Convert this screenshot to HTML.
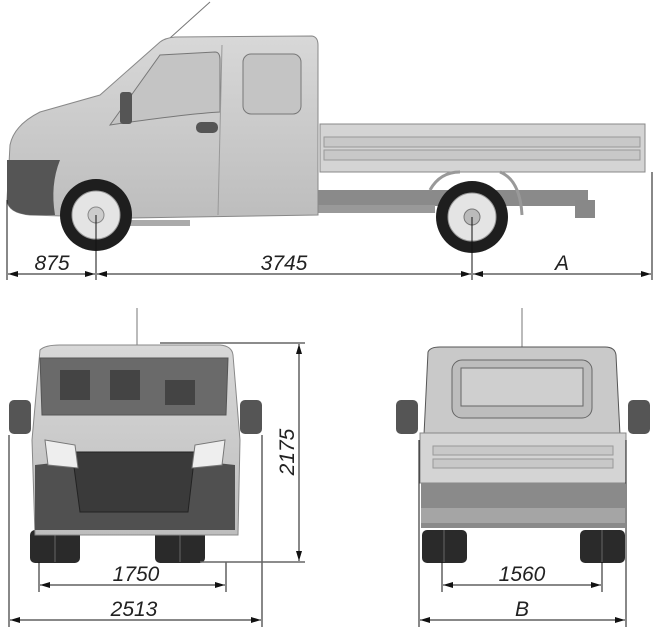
<!DOCTYPE html>
<html><head><meta charset="utf-8"><style>
html,body{margin:0;padding:0;background:#fff;width:655px;height:627px;overflow:hidden}
svg{display:block}
text{font-family:"Liberation Sans",sans-serif;font-style:italic;font-size:21px;fill:#222}
</style></head><body>
<svg width="655" height="627" viewBox="0 0 655 627" xmlns="http://www.w3.org/2000/svg">
<defs>
<marker id="a" viewBox="0 0 10 6" refX="10" refY="3" markerWidth="10" markerHeight="6" orient="auto-start-reverse"><path d="M0,0L10,3L0,6z" fill="#111"/></marker>
<linearGradient id="body" x1="0" y1="0" x2="0" y2="1"><stop offset="0" stop-color="#d8d8d8"/><stop offset="1" stop-color="#bdbdbd"/></linearGradient>
</defs>
<!-- SIDE VIEW -->
<line x1="170" y1="38" x2="210" y2="2" stroke="#777" stroke-width="1"/>
<rect x="320" y="124" width="325" height="48" fill="#d4d4d4" stroke="#888"/>
<rect x="324" y="137" width="316" height="10" fill="#c8c8c8" stroke="#999"/>
<rect x="324" y="150" width="316" height="10" fill="#c8c8c8" stroke="#999"/>
<rect x="318" y="190" width="270" height="16" fill="#8a8a8a"/>
<rect x="255" y="205" width="180" height="8" fill="#999"/>
<rect x="575" y="200" width="20" height="18" fill="#888"/>
<path d="M430,190 Q440,172 460,172 M500,172 Q520,180 522,215" stroke="#999" fill="none" stroke-width="3"/>
<path d="M10,145 Q14,125 40,112 L100,95 L160,42 Q165,38 175,37 L312,36 Q318,37 318,45 L318,215 L130,218 L30,215 Q8,213 7,200 Z" fill="url(#body)" stroke="#888"/>
<path d="M7,160 L60,160 Q50,185 55,215 L30,215 Q8,213 7,200Z" fill="#555"/>
<path d="M110,125 L160,55 L215,52 Q220,52 220,60 L220,112 Q185,114 110,125Z" fill="#c4c4c4" stroke="#777"/>
<rect x="243" y="54" width="58" height="60" rx="8" fill="#c4c4c4" stroke="#777"/>
<line x1="222" y1="45" x2="218" y2="215" stroke="#999"/>
<rect x="120" y="92" width="12" height="32" rx="3" fill="#555"/>
<rect x="196" y="122" width="22" height="11" rx="5" fill="#555"/>
<rect x="130" y="220" width="60" height="6" fill="#aaa"/>
<circle cx="96" cy="215" r="36" fill="#1e1e1e"/>
<circle cx="96" cy="215" r="24" fill="#e4e4e4" stroke="#999"/>
<circle cx="96" cy="215" r="8" fill="#ccc" stroke="#888"/>
<circle cx="472" cy="217" r="36" fill="#1e1e1e"/>
<circle cx="472" cy="217" r="24" fill="#e4e4e4" stroke="#999"/>
<circle cx="472" cy="217" r="8" fill="#bbb" stroke="#777"/>
<g stroke="#111" stroke-width="1">
<line x1="7" y1="200" x2="7" y2="280"/><line x1="96" y1="215" x2="96" y2="280"/>
<line x1="472" y1="217" x2="472" y2="280"/><line x1="652" y1="172" x2="652" y2="280"/>
<line x1="8" y1="274" x2="95" y2="274" marker-start="url(#a)" marker-end="url(#a)"/>
<line x1="97" y1="274" x2="471" y2="274" marker-start="url(#a)" marker-end="url(#a)"/>
<line x1="473" y1="274" x2="651" y2="274" marker-start="url(#a)" marker-end="url(#a)"/>
</g>
<text x="52" y="270" text-anchor="middle">875</text>
<text x="284" y="270" text-anchor="middle">3745</text>
<text x="562" y="270" text-anchor="middle">A</text>

<!-- FRONT VIEW -->
<line x1="137" y1="308" x2="137" y2="346" stroke="#777"/>
<rect x="30" y="530" width="50" height="33" rx="5" fill="#2a2a2a"/>
<rect x="155" y="530" width="50" height="33" rx="5" fill="#2a2a2a"/>
<line x1="55" y1="530" x2="55" y2="562" stroke="#666"/><line x1="180" y1="530" x2="180" y2="562" stroke="#666"/>
<path d="M40,350 Q45,345 60,345 L220,345 Q232,346 233,355 L240,440 L238,535 L35,535 L32,440Z" fill="url(#body)" stroke="#888"/>
<path d="M40,358 L228,358 L226,415 L42,415Z" fill="#6a6a6a" stroke="#555"/>
<rect x="60" y="370" width="30" height="30" fill="#444"/><rect x="110" y="370" width="30" height="30" fill="#444"/><rect x="165" y="380" width="30" height="25" fill="#444"/>
<path d="M35,465 L80,460 L190,460 L235,465 L235,530 L35,530Z" fill="#505050"/>
<path d="M72,452 L195,452 L188,512 L80,512Z" fill="#3a3a3a" stroke="#222"/>
<path d="M45,440 L75,445 L78,468 L48,465Z" fill="#eee" stroke="#777"/>
<path d="M225,440 L195,445 L192,468 L222,465Z" fill="#eee" stroke="#777"/>
<rect x="9" y="400" width="22" height="34" rx="5" fill="#555"/>
<rect x="240" y="400" width="22" height="34" rx="5" fill="#555"/>
<!-- REAR VIEW -->
<line x1="522" y1="308" x2="522" y2="348" stroke="#777"/>
<rect x="422" y="530" width="45" height="33" rx="5" fill="#2a2a2a"/>
<rect x="580" y="530" width="45" height="33" rx="5" fill="#2a2a2a"/>
<line x1="444" y1="530" x2="444" y2="562" stroke="#666"/><line x1="602" y1="530" x2="602" y2="562" stroke="#666"/>
<path d="M428,352 Q430,347 440,347 L605,347 Q615,347 616,355 L620,435 L424,435Z" fill="#c9c9c9" stroke="#555"/>
<rect x="452" y="360" width="140" height="58" rx="10" fill="#bdbdbd" stroke="#666"/>
<rect x="461" y="368" width="122" height="38" fill="#cfcfcf" stroke="#666"/>
<rect x="420" y="433" width="206" height="50" fill="#d4d4d4" stroke="#888"/>
<rect x="433" y="446" width="180" height="9" fill="#c8c8c8" stroke="#999"/>
<rect x="433" y="459" width="180" height="9" fill="#c8c8c8" stroke="#999"/>
<rect x="421" y="483" width="204" height="45" fill="#8a8a8a"/>
<rect x="421" y="508" width="204" height="15" fill="#a5a5a5"/>
<rect x="396" y="400" width="22" height="34" rx="5" fill="#555"/>
<rect x="628" y="400" width="22" height="34" rx="5" fill="#555"/>
<g stroke="#111" stroke-width="1">
<line x1="9" y1="435" x2="9" y2="627"/><line x1="262" y1="435" x2="262" y2="627"/>
<line x1="39" y1="562" x2="39" y2="592"/><line x1="226" y1="562" x2="226" y2="592"/>
<line x1="10" y1="620" x2="261" y2="620" marker-start="url(#a)" marker-end="url(#a)"/>
<line x1="40" y1="585" x2="225" y2="585" marker-start="url(#a)" marker-end="url(#a)"/>
<line x1="160" y1="343" x2="305" y2="343" stroke="#666" stroke-width="1.5"/>
<line x1="200" y1="562" x2="305" y2="562" stroke="#666" stroke-width="1.5"/>
<line x1="299" y1="344" x2="299" y2="561" marker-start="url(#a)" marker-end="url(#a)"/>
<line x1="419" y1="440" x2="419" y2="627"/><line x1="626" y1="440" x2="626" y2="627"/>
<line x1="442" y1="562" x2="442" y2="592"/><line x1="602" y1="562" x2="602" y2="592"/>
<line x1="420" y1="620" x2="625" y2="620" marker-start="url(#a)" marker-end="url(#a)"/>
<line x1="443" y1="585" x2="601" y2="585" marker-start="url(#a)" marker-end="url(#a)"/>
</g>
<text x="136" y="581" text-anchor="middle">1750</text>
<text x="134" y="616" text-anchor="middle">2513</text>
<text x="522" y="581" text-anchor="middle">1560</text>
<text x="522" y="616" text-anchor="middle">B</text>
<text transform="translate(294,452) rotate(-90)" text-anchor="middle">2175</text>
</svg>
</body></html>
